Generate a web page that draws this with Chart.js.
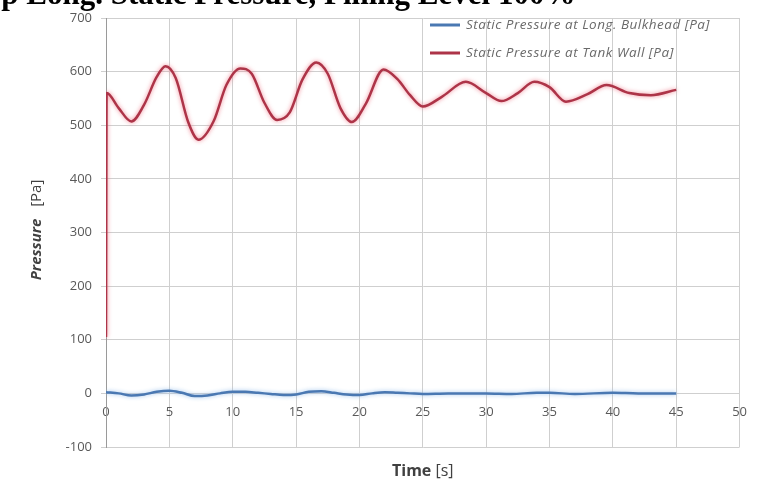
<!DOCTYPE html>
<html>
<head>
<meta charset="utf-8">
<script src="https://cdn.jsdelivr.net/npm/chart.js@4.4.1/dist/chart.umd.min.js"></script>
<style>
  html, body { margin: 0; padding: 0; background: #fff; }
  #wrap { position: relative; width: 758px; height: 487px; }
</style>
</head>
<body>
<div id="wrap"><canvas id="chart" width="758" height="487"></canvas></div>
<script>
// Données
const tankTime = [0, 0.05, 1, 2, 3, 4, 4.7, 5.5, 6.5, 7.3, 8.5, 9.5, 10.6, 11.5, 12.5, 13.5, 14.5, 15.5, 16.6, 17.5, 18.5, 19.4, 20.5, 21.9, 23, 24, 25, 26.5, 28.4, 30, 31.2, 32.5, 33.8, 35, 36.3, 38, 39.5, 41.3, 43, 45];
const tankWall = [105, 560, 532, 507, 538, 590, 610, 588, 505, 473, 508, 575, 606, 596, 542, 510, 524, 585, 617, 596, 532, 506, 540, 604, 586, 556, 535, 553, 581, 560, 545, 560, 581, 571, 544, 558, 575, 560, 556, 566];

const bulkTime = [0, 1, 2, 3, 4, 5, 6, 7, 8, 9, 10, 11, 12, 13, 14, 15, 16, 17, 18, 19, 20, 21, 22, 23, 24, 25, 27, 30, 32, 34, 35, 37, 40, 42, 45];
const bulkhead = [2, 0, -4, -2, 3, 5, 1, -5, -4, 0, 3, 3, 1, -1, -3, -2, 3, 4, 1, -2, -3, 0, 2, 1, 0, -1, 0, 0, -1, 1, 1, -1, 1, 0, 0];

const xTicks = [0, 5, 10, 15, 20, 25, 30, 35, 40, 45, 50];
const yTicks = [-100, 0, 100, 200, 300, 400, 500, 600, 700];

const seriesLabels = ['Static Pressure at Long. Bulkhead [Pa]', 'Static Pressure at Tank Wall [Pa]'];
const topTitle = 'Top Long. Static Pressure, Filling Level 100%';

const toPoints = (xs, ys) => xs.map((x, i) => ({ x: x, y: ys[i] }));

const gray = '#595959';

// Légende, titres et halo des courbes
const decorPlugin = {
    id: 'decor',
    beforeDatasetDraw(chart, args) {
        const ctx = chart.ctx;
        ctx.save();
        ctx.shadowColor = args.index === 1 ? 'rgba(240,120,135,0.9)' : 'rgba(150,190,235,0.9)';
        ctx.shadowBlur = 4;
    },
    afterDatasetDraw(chart) {
        chart.ctx.restore();
    },
    afterDraw(chart) {
        const ctx = chart.ctx;
        const area = chart.chartArea;
        ctx.save();

        // titre coupé en haut
        ctx.fillStyle = '#000';
        ctx.font = 'bold 31px "Liberation Serif"';
        ctx.textBaseline = 'alphabetic';
        ctx.textAlign = 'left';
        ctx.fillText(topTitle, -32, 4);

        // légende
        ctx.font = 'italic 13.5px "Open Sans"';
        ctx.letterSpacing = '0.5px';
        ctx.textBaseline = 'middle';
        const rows = [25, 53];
        chart.data.datasets.forEach((ds, i) => {
            const y = rows[i];
            ctx.strokeStyle = ds.borderColor;
            ctx.lineWidth = 3;
            ctx.beginPath();
            ctx.moveTo(430, y);
            ctx.lineTo(460, y);
            ctx.stroke();
            ctx.fillStyle = '#6a6a6a';
            ctx.fillText(ds.label, 466, y);
        });
        ctx.letterSpacing = '0px';

        // titre axe X
        ctx.fillStyle = '#404040';
        const t1 = 'Time ';
        ctx.font = '16px "Open Sans"';
        const w2 = ctx.measureText('[s]').width;
        ctx.font = 'bold 16px "Open Sans"';
        const w1 = ctx.measureText(t1).width;
        let x0 = (area.left + area.right) / 2 - (w1 + w2) / 2;
        ctx.fillText(t1, x0, 471);
        ctx.font = '16px "Open Sans"';
        ctx.fillText('[s]', x0 + w1, 471);

        // titre axe Y
        ctx.translate(37, 230);
        ctx.rotate(-Math.PI / 2);
        ctx.font = 'bold italic 15px "Open Sans"';
        const p1 = 'Pressure   ';
        const pw1 = ctx.measureText(p1).width;
        ctx.font = '15px "Open Sans"';
        const pw2 = ctx.measureText('[Pa]').width;
        x0 = -(pw1 + pw2) / 2;
        ctx.font = 'bold italic 15px "Open Sans"';
        ctx.fillText(p1, x0, 0);
        ctx.font = '15px "Open Sans"';
        ctx.fillText('[Pa]', x0 + pw1, 0);

        ctx.restore();
    }
};

const chart = new Chart(document.getElementById('chart'), {
    type: 'line',
    data: {
        datasets: [
            {
                label: seriesLabels[0],
                data: toPoints(bulkTime, bulkhead),
                borderColor: '#4a78b2',
                borderWidth: 2.5,
                pointRadius: 0,
                cubicInterpolationMode: 'monotone',
                fill: false
            },
            {
                label: seriesLabels[1],
                data: toPoints(tankTime, tankWall),
                borderColor: '#ad3448',
                borderWidth: 2.5,
                pointRadius: 0,
                cubicInterpolationMode: 'monotone',
                fill: false
            }
        ]
    },
    options: {
        animation: false,
        responsive: false,
        layout: { padding: { left: 0, right: 18, top: 18, bottom: 40 } },
        plugins: {
            legend: { display: false },
            tooltip: { enabled: false }
        },
        scales: {
            x: {
                type: 'linear',
                position: { y: 0 },
                min: 0,
                max: 50,
                afterBuildTicks: (s) => { s.ticks = xTicks.map(v => ({ value: v })); },
                grid: { color: '#cfcfcf', drawTicks: false },
                border: { display: false },
                ticks: { color: gray, font: { family: 'Open Sans', size: 13 }, padding: 11, maxRotation: 0 }
            },
            y: {
                min: -100,
                max: 700,
                afterBuildTicks: (s) => { s.ticks = yTicks.map(v => ({ value: v })); },
                afterFit: (s) => { s.width = 106; },
                grid: { color: '#cfcfcf', tickLength: 5 },
                border: { color: '#9a9a9a' },
                ticks: { color: gray, font: { family: 'Open Sans', size: 13 }, padding: 9 }
            }
        }
    },
    plugins: [decorPlugin]
});
</script>
</body>
</html>
